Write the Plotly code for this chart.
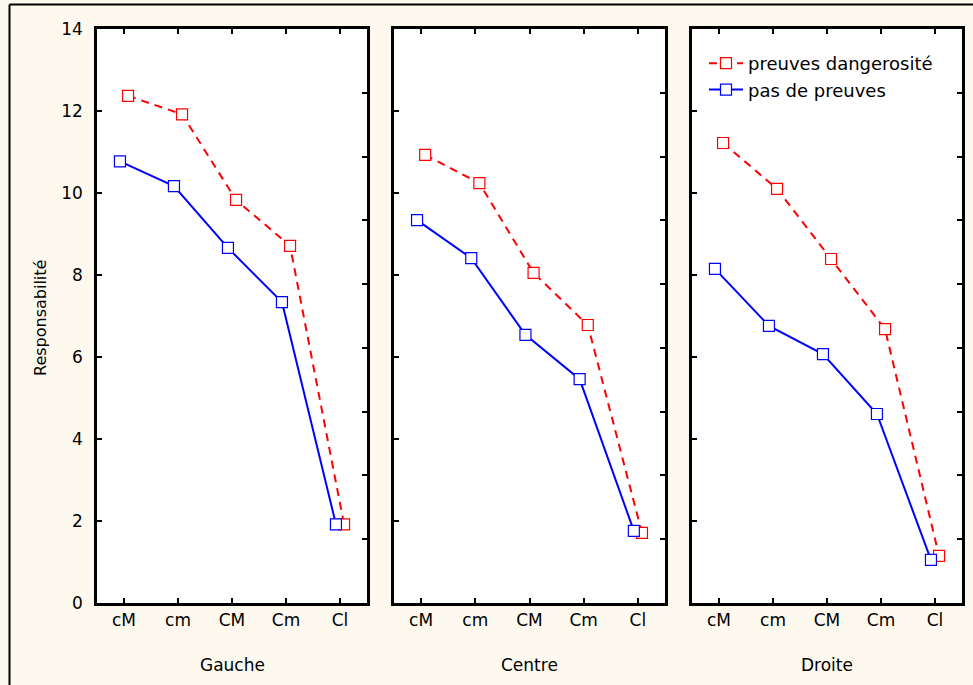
import plotly.graph_objects as go

categories = ["cM", "cm", "CM", "Cm", "Cl"]
panels = ["Gauche", "Centre", "Droite"]
series_names = ["preuves dangerosité", "pas de preuves"]

preuves_gauche = [12.37, 11.92, 9.83, 8.71, 1.92]
preuves_centre = [10.93, 10.24, 8.05, 6.78, 1.71]
preuves_droite = [11.22, 10.10, 8.39, 6.68, 1.15]

pas_gauche = [10.77, 10.17, 8.66, 7.34, 1.92]
pas_centre = [9.34, 8.41, 6.54, 5.46, 1.76]
pas_droite = [8.15, 6.76, 6.07, 4.61, 1.05]

y_ticks = [0, 2, 4, 6, 8, 10, 12, 14]

W, H = 973, 685
FONT = "DejaVu Sans, Arial, sans-serif"
CREAM = "#FDF9EF"

preuves = [preuves_gauche, preuves_centre, preuves_droite]
pas = [pas_gauche, pas_centre, pas_droite]

px_domains = [(97, 367), (394, 665), (692, 962)]
y_dom = [1 - 603 / H, 1 - 29 / H]

fig = go.Figure()
pos = list(range(len(categories)))
off = 0.075

for i in range(3):
    xa = "x" if i == 0 else f"x{i+1}"
    ya = "y" if i == 0 else f"y{i+1}"
    fig.add_trace(go.Scatter(
        x=[p + off for p in pos], y=preuves[i], xaxis=xa, yaxis=ya,
        mode="lines+markers", name=series_names[0], showlegend=(i == 0),
        line=dict(color="#FF0000", width=2, dash="8px,6px"),
        marker=dict(symbol="square", size=11, color="white",
                    line=dict(color="#FF0000", width=1.2)),
    ))
    fig.add_trace(go.Scatter(
        x=[p - off for p in pos], y=pas[i], xaxis=xa, yaxis=ya,
        mode="lines+markers", name=series_names[1], showlegend=(i == 0),
        line=dict(color="#0000FF", width=2),
        marker=dict(symbol="square", size=11, color="white",
                    line=dict(color="#0000FF", width=1.2)),
    ))

layout = dict(
    width=W, height=H,
    margin=dict(l=0, r=0, t=0, b=0, autoexpand=False),
    paper_bgcolor=CREAM, plot_bgcolor="white",
    font=dict(family=FONT, size=16, color="black"),
    showlegend=True,
    legend=dict(x=704 / W, y=1 - 45 / H, xanchor="left", yanchor="top",
                bgcolor="rgba(0,0,0,0)", itemwidth=34,
                font=dict(size=18, family=FONT), tracegroupgap=0),
)

for i, (x0, x1) in enumerate(px_domains):
    sfx = "" if i == 0 else str(i + 1)
    layout[f"xaxis{sfx}"] = dict(
        domain=[x0 / W, x1 / W], anchor=f"y{sfx}",
        range=[-0.5, 4.5], tickmode="array", tickvals=pos, ticktext=categories,
        ticks="inside", ticklen=5, tickwidth=1.5, tickcolor="black",
        showline=True, linecolor="black", linewidth=2.5, mirror="ticks",
        showgrid=False, zeroline=False, tickfont=dict(size=17),
        automargin=False,
    )
    layout[f"yaxis{sfx}"] = dict(
        domain=y_dom, anchor=f"x{sfx}",
        range=[0, 14], tickmode="array", tickvals=y_ticks,
        ticks="inside", ticklen=5, tickwidth=1.5, tickcolor="black",
        showline=True, linecolor="black", linewidth=2.5, mirror=True,
        showgrid=False, zeroline=False, showticklabels=(i == 0),
        tickfont=dict(size=17), ticklabelstandoff=8, automargin=False,
    )
    r = 10 + i
    layout[f"yaxis{r}"] = dict(
        domain=y_dom, anchor=f"x{sfx}", overlaying=f"y{sfx}", side="right",
        range=[0, 9], tickmode="linear", tick0=0, dtick=1,
        ticks="inside", ticklen=5, tickwidth=1.5, tickcolor="black",
        showticklabels=False, showline=False, showgrid=False, zeroline=False,
        automargin=False,
    )
    layout.setdefault("annotations", []).append(dict(
        text=panels[i], x=(x0 + x1) / 2 / W, y=1 - 665 / H, xref="paper",
        yref="paper", showarrow=False, font=dict(size=17, family=FONT),
        xanchor="center", yanchor="middle"))

layout["annotations"].append(dict(
    text="Responsabilité", x=40 / W, y=1 - 318 / H, xref="paper", yref="paper",
    showarrow=False, textangle=-90, font=dict(size=16, family=FONT),
    xanchor="center", yanchor="middle"))

layout["shapes"] = [
    dict(type="line", xref="paper", yref="paper", x0=9.5 / W, x1=9.5 / W,
         y0=0, y1=1 - 4.5 / H, line=dict(color="black", width=2)),
    dict(type="line", xref="paper", yref="paper", x0=9.5 / W, x1=1,
         y0=1 - 4.5 / H, y1=1 - 4.5 / H, line=dict(color="black", width=2)),
]

fig.update_layout(**layout)

for i in range(3):
    sfx = "" if i == 0 else str(i + 1)
    fig.add_trace(go.Scatter(x=[None], y=[None], xaxis=f"x{sfx}",
                             yaxis=f"y{10 + i}", showlegend=False,
                             hoverinfo="skip"))

fig.write_html(
    "out.html",
    config={"displayModeBar": False},
    post_script="document.body.style.margin='0';document.body.style.overflow='hidden';",
)
